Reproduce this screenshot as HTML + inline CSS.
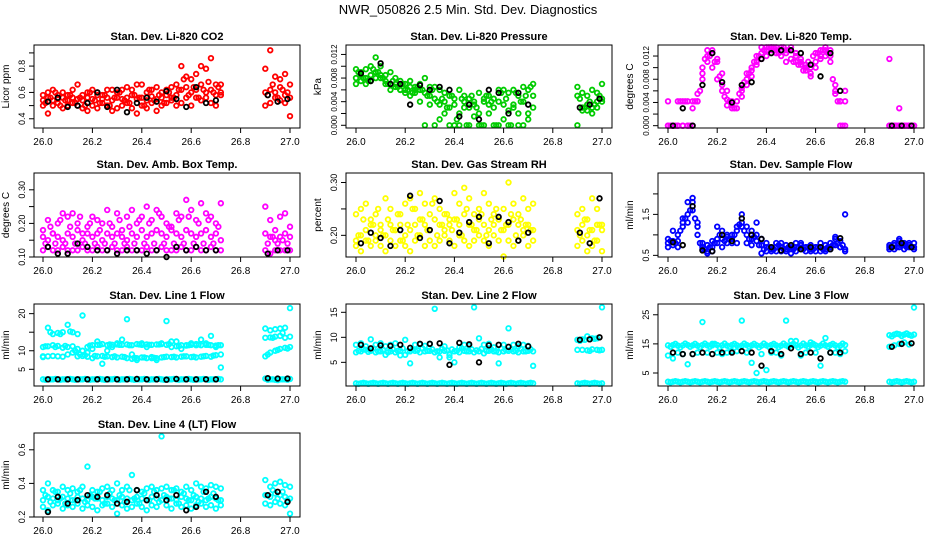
<!DOCTYPE html>
<html><head><meta charset="utf-8"><style>
html,body{margin:0;padding:0;background:#fff;}
svg{display:block;font-family:"Liberation Sans",sans-serif;}
</style></head><body>
<svg id="chart" width="936" height="540" viewBox="0 0 936 540">
<text x="468" y="14" text-anchor="middle" font-size="13">NWR_050826  2.5 Min. Std. Dev. Diagnostics</text>
</svg>
<script>
const t = [26.00,26.02,26.04,26.06,26.08,26.10,26.12,26.14,26.16,26.18,26.20,26.22,26.24,26.26,26.28,26.30,26.32,26.34,26.36,26.38,26.40,26.42,26.44,26.46,26.48,26.50,26.52,26.54,26.56,26.58,26.60,26.62,26.64,26.66,26.68,26.70,26.72,26.90,26.92,26.94,26.96,26.98,27.00];
const t2 = [26.01,26.03,26.05,26.07,26.09,26.11,26.13,26.15,26.17,26.19,26.21,26.23,26.25,26.27,26.29,26.31,26.33,26.35,26.37,26.39,26.41,26.43,26.45,26.47,26.49,26.51,26.53,26.55,26.57,26.59,26.61,26.63,26.65,26.67,26.69,26.71,26.91,26.93,26.95,26.97,26.99];
const tb = [26.02,26.06,26.10,26.14,26.18,26.22,26.26,26.30,26.34,26.38,26.42,26.46,26.50,26.54,26.58,26.62,26.66,26.70,26.91,26.95,26.99];
const xTicks = [26.0,26.2,26.4,26.6,26.8,27.0];
const xTickLabels = ["26.0","26.2","26.4","26.6","26.8","27.0"];

const co2A = [0.58,0.60,0.62,0.58,0.60,0.58,0.62,0.66,0.58,0.60,0.62,0.60,0.58,0.62,0.62,0.60,0.62,0.64,0.62,0.66,0.66,0.60,0.62,0.64,0.60,0.62,0.64,0.66,0.80,0.72,0.70,0.74,0.80,0.78,0.86,0.66,0.66,0.78,0.92,0.72,0.70,0.74,0.66];
const co2B = [0.50,0.44,0.50,0.52,0.48,0.50,0.52,0.50,0.48,0.46,0.50,0.48,0.52,0.50,0.46,0.48,0.50,0.52,0.48,0.44,0.50,0.48,0.52,0.46,0.50,0.52,0.54,0.50,0.52,0.56,0.50,0.56,0.54,0.56,0.52,0.50,0.58,0.50,0.52,0.56,0.54,0.52,0.42];
const co2C = [0.54,0.56,0.54,0.55,0.56,0.54,0.56,0.55,0.54,0.56,0.55,0.58,0.55,0.56,0.54,0.56,0.55,0.56,0.58,0.55,0.56,0.54,0.57,0.55,0.56,0.58,0.56,0.58,0.62,0.64,0.60,0.62,0.66,0.60,0.62,0.58,0.60,0.60,0.62,0.60,0.64,0.58,0.56];
const co2D = [0.52,0.56,0.60,0.50,0.54,0.58,0.52,0.56,0.50,0.60,0.54,0.52,0.58,0.50,0.56,0.60,0.54,0.52,0.58,0.56,0.50,0.62,0.54,0.58,0.52,0.60,0.56,0.62,0.70,0.58,0.64,0.56,0.62,0.68,0.60,0.64,0.58,0.66,0.56,0.62,0.60];
const co2K = [0.53,0.56,0.49,0.50,0.52,0.60,0.49,0.62,0.45,0.52,0.56,0.53,0.61,0.55,0.49,0.64,0.52,0.54,0.58,0.53,0.55];

const prA = [0.0095,0.0085,0.0080,0.0100,0.0115,0.0100,0.0085,0.0090,0.0080,0.0075,0.0070,0.0075,0.0065,0.0070,0.0080,0.0065,0.0065,0.0060,0.0055,0.0050,0.0045,0.0060,0.0050,0.0045,0.0040,0.0055,0.0045,0.0050,0.0045,0.0060,0.0060,0.0055,0.0060,0.0050,0.0065,0.0060,0.0070,0.0065,0.0055,0.0050,0.0060,0.0055,0.0070];
const prB = [0.0080,0.0075,0.0070,0.0085,0.0090,0.0080,0.0075,0.0070,0.0065,0.0060,0.0060,0.0065,0.0055,0.0060,0.0055,0.0050,0.0045,0.0035,0.0020,0.0,0.0,0.0,0.0030,0.0,0.0015,0.0,0.0,0.0020,0.0,0.0,0.0010,0.0,0.0030,0.0,0.0,0.0020,0.0030,0.0,0.0030,0.0025,0.0020,0.0030,0.0040];
const prC = [0.0070,0.0090,0.0095,0.0075,0.0080,0.0085,0.0070,0.0060,0.0070,0.0060,0.0055,0.0050,0.0060,0.0040,0.0,0.0035,0.0,0.0010,0.0040,0.0030,0.0035,0.0020,0.0040,0.0030,0.0035,0.0020,0.0040,0.0035,0.0030,0.0040,0.0035,0.0025,0.0035,0.0020,0.0040,0.0010,0.0050,0.0050,0.0025,0.0035,0.0030,0.0040,0.0045];
const prD = [0.0090,0.0080,0.0075,0.0095,0.0090,0.0080,0.0070,0.0075,0.0065,0.0070,0.0060,0.0055,0.0065,0.0060,0.0050,0.0060,0.0040,0.0045,0.0030,0.0050,0.0010,0.0045,0.0,0.0050,0.0030,0.0,0.0050,0.0040,0.0,0.0055,0.0045,0.0,0.0055,0.0040,0.0050,0.0065,0.0045,0.0030,0.0040,0.0035,0.0050];
const prK = [0.0088,0.0075,0.0105,0.0070,0.0070,0.0035,0.0068,0.0060,0.0065,0.0060,0.0015,0.0035,0.0010,0.0060,0.0055,0.0020,0.0055,0.0035,0.0030,0.0035,0.0045];

const tmA = [0.0042,0.0,0.0042,0.0042,0.0042,0.0042,0.0042,0.0080,0.0110,0.0125,0.0115,0.0090,0.0060,0.0042,0.0042,0.0050,0.0080,0.0095,0.0110,0.0125,0.0130,0.0135,0.0135,0.0130,0.0125,0.0135,0.0120,0.0110,0.0100,0.0090,0.0110,0.0120,0.0130,0.0130,0.0070,0.0042,0.0042,0.0,0.0,0.0,0.0,0.0,0.0];
const tmB = [0.0,0.0,0.0,0.0,0.0,0.0030,0.0055,0.0100,0.0120,0.0100,0.0080,0.0060,0.0045,0.0035,0.0030,0.0060,0.0070,0.0085,0.0105,0.0115,0.0120,0.0130,0.0125,0.0120,0.0110,0.0130,0.0125,0.0105,0.0095,0.0085,0.0100,0.0115,0.0120,0.0110,0.0055,0.0,0.0,0.0,0.0,0.0,0.0,0.0,0.0];
const tmC = [0.0,0.0,0.0,0.0,0.0,0.0,0.0042,0.0090,0.0130,0.0130,0.0110,0.0070,0.0035,0.0030,0.0042,0.0065,0.0090,0.0100,0.0120,0.0135,0.0135,0.0135,0.0130,0.0135,0.0130,0.0115,0.0110,0.0115,0.0105,0.0100,0.0125,0.0130,0.0135,0.0120,0.0060,0.0042,0.0060,0.0115,0.0,0.0030,0.0,0.0,0.0];
const tmD = [0.0,0.0,0.0042,0.0042,0.0,0.0042,0.0060,0.0115,0.0120,0.0110,0.0085,0.0050,0.0042,0.0030,0.0055,0.0075,0.0090,0.0110,0.0120,0.0130,0.0135,0.0135,0.0125,0.0135,0.0130,0.0110,0.0105,0.0095,0.0110,0.0120,0.0125,0.0130,0.0125,0.0080,0.0042,0.0,0.0,0.0,0.0,0.0,0.0];
const tmK = [0.0,0.0030,0.0,0.0070,0.0125,0.0075,0.0040,0.0070,0.0075,0.0115,0.0125,0.0130,0.0130,0.0125,0.0105,0.0085,0.0125,0.0060,0.0,0.0,0.0];

const abA = [0.18,0.21,0.17,0.20,0.23,0.22,0.23,0.20,0.17,0.19,0.22,0.21,0.20,0.24,0.19,0.23,0.18,0.22,0.24,0.20,0.22,0.25,0.21,0.24,0.22,0.20,0.19,0.23,0.22,0.27,0.24,0.21,0.26,0.23,0.22,0.20,0.26,0.25,0.21,0.18,0.22,0.23,0.19];
const abB = [0.16,0.15,0.17,0.16,0.15,0.17,0.16,0.18,0.15,0.17,0.16,0.17,0.15,0.17,0.16,0.17,0.16,0.15,0.17,0.16,0.18,0.16,0.17,0.18,0.17,0.16,0.18,0.17,0.16,0.18,0.17,0.16,0.17,0.18,0.16,0.17,0.15,0.17,0.16,0.15,0.16,0.17,0.16];
const abC = [0.12,0.13,0.12,0.12,0.13,0.12,0.12,0.12,0.13,0.12,0.12,0.13,0.12,0.12,0.13,0.12,0.12,0.13,0.12,0.12,0.12,0.13,0.12,0.12,0.13,0.12,0.12,0.12,0.13,0.12,0.12,0.13,0.12,0.12,0.13,0.12,0.12,0.12,0.11,0.12,0.12,0.12,0.12];
const abD = [0.14,0.19,0.14,0.21,0.14,0.19,0.14,0.22,0.14,0.20,0.14,0.18,0.14,0.20,0.14,0.21,0.14,0.19,0.14,0.21,0.14,0.20,0.14,0.23,0.14,0.19,0.14,0.21,0.14,0.22,0.14,0.20,0.14,0.21,0.14,0.19,0.14,0.16,0.14,0.15,0.14];
const abK = [0.13,0.11,0.11,0.14,0.13,0.12,0.12,0.11,0.12,0.12,0.11,0.12,0.10,0.13,0.12,0.13,0.12,0.12,0.11,0.12,0.12];

const rhA = [0.24,0.25,0.26,0.23,0.24,0.22,0.27,0.25,0.21,0.24,0.26,0.27,0.25,0.28,0.26,0.24,0.27,0.25,0.24,0.23,0.28,0.26,0.29,0.27,0.24,0.25,0.28,0.26,0.24,0.23,0.25,0.30,0.26,0.24,0.27,0.25,0.26,0.24,0.25,0.23,0.27,0.25,0.22];
const rhB = [0.19,0.20,0.21,0.22,0.20,0.21,0.20,0.22,0.21,0.22,0.20,0.21,0.22,0.23,0.22,0.21,0.23,0.22,0.21,0.22,0.23,0.22,0.24,0.22,0.21,0.23,0.22,0.21,0.22,0.23,0.21,0.22,0.23,0.22,0.21,0.22,0.21,0.21,0.22,0.20,0.21,0.22,0.21];
const rhC = [0.18,0.17,0.19,0.18,0.19,0.18,0.17,0.19,0.18,0.19,0.18,0.17,0.19,0.20,0.18,0.19,0.18,0.19,0.20,0.19,0.18,0.20,0.19,0.18,0.19,0.20,0.19,0.18,0.20,0.19,0.16,0.19,0.18,0.19,0.20,0.18,0.19,0.18,0.19,0.17,0.18,0.19,0.17];
const rhD = [0.20,0.23,0.19,0.22,0.25,0.20,0.23,0.21,0.24,0.19,0.22,0.25,0.20,0.23,0.21,0.26,0.20,0.22,0.24,0.21,0.23,0.20,0.25,0.22,0.21,0.24,0.20,0.23,0.25,0.21,0.22,0.24,0.20,0.23,0.22,0.21,0.20,0.23,0.21,0.19,0.22];
const rhK = [0.185,0.205,0.195,0.18,0.21,0.275,0.195,0.21,0.265,0.185,0.205,0.225,0.235,0.185,0.235,0.225,0.19,0.205,0.205,0.185,0.27];

const sfA = [0.90,0.85,1.00,1.40,1.80,1.90,1.20,0.70,0.60,0.60,0.90,1.10,1.00,0.90,1.20,1.50,1.20,0.90,1.30,0.90,0.70,0.70,0.80,0.70,0.65,0.70,0.80,0.75,0.70,0.75,0.70,0.70,0.75,0.80,0.90,0.85,1.50,0.75,0.80,0.85,0.80,0.75,0.80];
const sfB = [0.80,0.75,0.85,1.20,1.50,1.60,1.00,0.65,0.55,0.70,1.20,0.90,0.80,1.00,0.80,1.30,1.00,0.75,1.00,0.75,0.60,0.65,0.70,0.60,0.60,0.65,0.60,0.65,0.60,0.65,0.60,0.60,0.65,0.70,0.75,0.70,0.65,0.70,0.65,0.70,0.75,0.70,0.70];
const sfC = [0.70,1.10,0.70,1.30,1.30,1.80,1.30,0.80,0.75,0.85,0.80,0.70,0.95,0.80,1.10,1.20,0.80,1.10,0.85,0.55,0.80,0.60,0.60,0.80,0.75,0.55,0.70,0.80,0.70,0.60,0.70,0.80,0.60,0.65,0.95,0.70,0.60,0.65,0.75,0.90,0.65,0.80,0.65];
const sfD = [0.85,0.80,1.10,1.40,1.60,1.40,0.80,0.65,0.70,0.80,1.00,0.85,0.90,1.00,1.25,1.10,0.90,0.95,0.75,0.65,0.70,0.65,0.75,0.65,0.70,0.65,0.70,0.65,0.70,0.65,0.70,0.65,0.70,0.75,0.80,0.75,0.70,0.70,0.75,0.70,0.70];
const sfK = [0.82,0.75,1.70,0.62,0.60,1.00,0.85,1.40,1.00,0.90,0.70,0.62,0.75,0.65,0.70,0.70,0.65,0.92,0.70,0.80,0.70];

const l1A = [2.3,2.3,2.3,2.3,2.3,2.3,2.3,2.3,2.3,2.3,2.3,2.3,2.3,2.3,2.3,2.3,2.3,2.3,2.3,2.3,2.3,2.3,2.3,2.3,2.3,2.3,2.3,2.3,2.3,2.3,2.3,2.3,2.3,2.3,2.3,2.3,2.3,2.5,2.3,2.2,2.3,2.3,2.4];
const l1B = [8.3,8.5,8.6,8.5,8.4,9.0,9.5,8.5,8.6,8.4,8.0,8.5,8.6,8.5,8.3,8.2,8.4,8.0,7.8,8.0,8.2,8.0,8.3,8.0,8.2,8.4,8.3,8.2,8.4,8.5,8.3,8.2,8.4,8.6,8.4,8.8,9.0,8.5,9.5,10.0,10.5,10.8,11.0];
const l1C = [11.0,11.2,11.5,11.3,10.8,11.0,11.2,10.5,10.0,11.0,11.5,11.6,11.8,11.5,11.6,11.7,11.6,11.7,11.5,11.8,11.6,11.7,11.6,11.7,11.8,11.6,11.0,11.2,11.5,11.4,11.6,11.8,11.5,11.6,11.5,11.4,11.5,13.5,13.6,13.8,14.0,13.5,13.8];
const l1D = [8.5,16.2,14.5,14.8,15.0,17.0,15.0,14.5,19.5,9.5,10.5,12.5,6.5,10.0,11.0,12.0,13.0,18.5,9.0,7.5,12.0,11.0,8.0,7.5,12.0,18.0,12.5,12.5,10.5,11.5,12.0,11.5,13.0,12.0,14.0,11.0,5.5,16.0,15.5,15.8,16.0,16.2,21.5];
const l1E = [2.2,2.3,2.4,2.2,2.3,2.4,2.2,2.3,2.4,2.2,2.3,2.4,2.2,2.3,2.4,2.2,2.3,2.4,2.2,2.3,2.4,2.2,2.3,2.4,2.2,2.3,2.4,2.2,2.3,2.4,2.2,2.3,2.4,2.2,2.3,2.4,2.2,2.3,2.1,2.3,2.2];
const l1F = [11.2,15.0,11.0,14.5,11.3,15.2,10.0,9.0,8.8,11.4,8.6,11.6,8.4,11.7,8.5,11.6,8.3,11.5,8.1,11.7,8.2,11.6,8.1,11.7,8.3,11.8,8.4,11.3,8.5,11.5,8.4,11.7,8.5,11.6,8.7,11.5,9.0,13.5,10.2,14.8,10.6];
const l1K = [2.3,2.3,2.3,2.3,2.3,2.3,2.3,2.3,2.3,2.4,2.3,2.3,2.2,2.4,2.3,2.3,2.3,2.3,2.6,2.5,2.5];

const l2A = [0.8,0.8,0.8,0.8,0.8,0.8,0.8,0.8,0.8,0.8,0.8,0.8,0.8,0.8,0.8,0.8,0.8,0.8,0.8,0.8,0.8,0.8,0.8,0.8,0.8,0.8,0.8,0.8,0.8,0.8,0.8,0.8,0.8,0.8,0.8,0.8,0.8,0.8,0.8,0.8,0.8,0.8,0.8];
const l2B = [7.0,7.2,7.5,7.3,7.0,7.2,6.5,7.2,7.0,7.3,6.5,7.2,7.3,7.0,7.2,7.3,7.0,7.2,7.3,6.0,7.2,7.0,7.3,7.2,7.0,7.2,6.8,7.3,7.2,7.0,7.2,7.3,7.2,7.0,7.2,7.3,7.2,7.5,7.5,7.4,7.6,7.5,7.5];
const l2C = [8.5,8.8,8.2,9.6,8.5,8.8,8.2,8.5,8.8,6.4,9.5,4.8,8.5,8.6,8.3,8.7,15.7,6.0,8.2,6.5,5.0,8.0,8.5,8.3,16.0,9.8,8.5,8.7,8.0,4.8,8.5,11.8,8.5,8.2,8.5,8.3,4.3,9.5,9.6,10.2,9.8,9.8,16.0];
const l2D = [0.7,0.9,0.7,0.9,0.7,0.9,0.7,0.9,0.7,0.9,0.7,0.9,0.7,0.9,0.7,0.9,0.7,0.9,0.7,0.9,0.7,0.9,0.7,0.9,0.7,0.9,0.7,0.9,0.7,0.9,0.7,0.9,0.7,0.9,0.7,0.9,0.7,0.9,0.7,0.9,0.7];
const l2E = [7.3,7.6,7.1,7.8,7.2,7.5,7.0,7.6,7.3,7.8,7.2,7.6,7.4,7.8,7.3,7.6,7.2,7.7,7.4,7.6,7.3,7.8,7.2,7.6,7.4,7.7,7.3,7.6,7.2,7.8,7.4,7.6,7.3,7.7,7.2,7.6,9.3,9.5,7.3,9.7,7.4];
const l2K = [8.5,7.8,8.4,8.3,8.5,7.9,8.7,8.7,8.8,4.5,8.9,8.6,5.0,8.4,8.5,8.1,8.7,8.2,9.5,9.6,10.0];

const l3A = [2.0,2.0,2.0,2.0,2.0,2.0,2.0,2.0,2.0,2.0,2.0,2.0,2.0,2.0,2.0,2.0,2.0,2.0,2.0,2.0,2.0,2.0,2.0,2.0,2.0,2.0,2.0,2.0,2.0,2.0,2.0,2.0,2.0,2.0,2.0,2.0,2.0,2.0,2.0,2.0,2.0,2.0,2.0];
const l3B = [14.5,14.6,14.4,14.5,14.6,14.5,14.4,14.6,14.5,14.5,14.6,14.5,14.4,14.6,14.5,14.4,14.6,14.5,14.5,14.4,14.5,14.6,14.5,14.4,14.5,14.6,14.5,14.4,14.5,14.6,14.5,14.4,14.5,14.6,14.5,14.4,14.6,18.0,18.2,18.3,18.2,18.1,18.2];
const l3C = [11.0,10.0,12.0,11.5,8.0,11.5,12.0,22.5,12.0,15.0,12.0,11.5,12.0,12.5,12.5,23.0,12.0,8.5,5.0,11.5,6.0,12.0,12.0,11.0,23.0,16.0,16.0,11.0,12.0,15.5,12.0,7.5,17.0,12.0,12.0,11.5,12.5,14.0,14.5,15.0,15.5,14.8,27.5];
const l3D = [1.8,2.2,1.8,2.2,1.8,2.2,1.8,2.2,1.8,2.2,1.8,2.2,1.8,2.2,1.8,2.2,1.8,2.2,1.8,2.2,1.8,2.2,1.8,2.2,1.8,2.2,1.8,2.2,1.8,2.2,1.8,2.2,1.8,2.2,1.8,2.2,1.8,2.2,1.8,2.2,1.8];
const l3E = [14.0,15.0,13.8,15.1,14.0,15.0,13.9,15.1,14.0,15.0,13.8,15.1,14.0,15.0,13.9,15.1,14.0,15.0,13.8,15.1,14.0,15.0,13.9,15.1,14.0,15.0,13.8,15.1,14.0,15.0,13.9,15.1,14.0,15.0,13.8,15.1,17.6,18.5,17.7,18.6,17.8];
const l3K = [12.0,11.5,11.5,12.0,11.5,12.0,12.0,12.5,12.0,7.5,12.5,11.5,13.5,11.5,12.0,10.0,12.0,12.0,14.0,15.0,15.2];

const l4A = [0.36,0.40,0.36,0.35,0.38,0.36,0.37,0.35,0.38,0.50,0.36,0.35,0.37,0.38,0.36,0.40,0.36,0.38,0.45,0.36,0.35,0.37,0.38,0.36,0.37,0.38,0.36,0.37,0.35,0.38,0.36,0.40,0.38,0.37,0.39,0.38,0.37,0.42,0.38,0.40,0.41,0.39,0.38];
const l4B = [0.30,0.32,0.31,0.30,0.32,0.31,0.30,0.32,0.31,0.30,0.32,0.31,0.30,0.32,0.31,0.30,0.32,0.31,0.30,0.32,0.31,0.30,0.32,0.31,0.30,0.32,0.31,0.30,0.32,0.31,0.30,0.32,0.31,0.30,0.32,0.31,0.30,0.33,0.32,0.34,0.33,0.32,0.31];
const l4C = [0.26,0.24,0.27,0.28,0.25,0.27,0.26,0.28,0.25,0.27,0.26,0.24,0.27,0.28,0.26,0.22,0.27,0.25,0.26,0.28,0.26,0.24,0.27,0.26,0.68,0.27,0.25,0.28,0.26,0.27,0.25,0.27,0.28,0.26,0.27,0.25,0.27,0.28,0.27,0.29,0.28,0.27,0.22];
const l4D = [0.33,0.29,0.35,0.31,0.28,0.34,0.30,0.36,0.29,0.33,0.31,0.35,0.28,0.34,0.30,0.33,0.29,0.36,0.31,0.28,0.34,0.30,0.35,0.29,0.33,0.31,0.36,0.28,0.34,0.30,0.33,0.29,0.35,0.31,0.34,0.30,0.33,0.36,0.31,0.35,0.30];
const l4K = [0.23,0.32,0.28,0.30,0.33,0.32,0.33,0.28,0.29,0.36,0.30,0.33,0.30,0.33,0.24,0.26,0.35,0.32,0.33,0.35,0.29];

const NS = "http://www.w3.org/2000/svg";
const svg = document.getElementById('chart');
const colBox = [[34,300],[346,612],[658,924]];
const colX = [[43,290],[356,602],[668,914]];
const rowBox = [[45,128],[173,257],[304,386],[433,517]];

const panels = [
 {name:'co2',title:'Stan. Dev. Li-820 CO2',ylab:'Licor ppm',c:0,r:0,ymin:0.33,ymax:0.96,fs:9,ticks:[0.4,0.5,0.6,0.7,0.8,0.9],labels:['0.4','','0.6','','0.8',''],color:'#ff0000',series:[[t,co2A],[t,co2B],[t,co2C],[t2,co2D]],black:co2K},
 {name:'pressure',title:'Stan. Dev. Li-820 Pressure',ylab:'kPa',c:1,r:0,ymin:-0.00046,ymax:0.0136,fs:8,ticks:[0,0.002,0.004,0.006,0.008,0.010,0.012],labels:['0.000','','0.004','','0.008','','0.012'],color:'#00cc00',series:[[t,prA],[t,prB],[t,prC],[t2,prD]],black:prK},
 {name:'temp',title:'Stan. Dev. Li-820 Temp.',ylab:'degrees C',c:2,r:0,ymin:-0.0004,ymax:0.0139,fs:8,ticks:[0,0.002,0.004,0.006,0.008,0.010,0.012],labels:['0.000','','0.004','','0.008','','0.012'],color:'#ff00ff',series:[[t,tmA],[t,tmB],[t,tmC],[t2,tmD]],black:tmK},
 {name:'amb-box-temp',title:'Stan. Dev. Amb. Box Temp.',ylab:'degrees C',c:0,r:1,ymin:0.10,ymax:0.35,fs:9,ticks:[0.10,0.15,0.20,0.25,0.30],labels:['0.10','','0.20','','0.30'],color:'#ff00ff',series:[[t,abA],[t,abB],[t,abC],[t2,abD]],black:abK},
 {name:'gas-rh',title:'Stan. Dev. Gas Stream RH',ylab:'percent',c:1,r:1,ymin:0.159,ymax:0.318,fs:9,ticks:[0.20,0.25,0.30],labels:['0.20','','0.30'],color:'#ffff00',series:[[t,rhA],[t,rhB],[t,rhC],[t2,rhD]],black:rhK},
 {name:'sample-flow',title:'Stan. Dev. Sample Flow',ylab:'ml/min',c:2,r:1,ymin:0.46,ymax:2.51,fs:9,ticks:[0.5,1.0,1.5,2.0],labels:['0.5','','1.5',''],color:'#0000ff',series:[[t,sfA],[t,sfB],[t,sfC],[t2,sfD]],black:sfK},
 {name:'line1-flow',title:'Stan. Dev. Line 1 Flow',ylab:'ml/min',c:0,r:2,ymin:0.5,ymax:22.6,fs:9,ticks:[5,10,15,20],labels:['5','10','','20'],color:'#00ffff',series:[[t,l1A],[t,l1B],[t,l1C],[t,l1D],[t2,l1E],[t2,l1F]],black:l1K},
 {name:'line2-flow',title:'Stan. Dev. Line 2 Flow',ylab:'ml/min',c:1,r:2,ymin:0.27,ymax:16.66,fs:9,ticks:[5,10,15],labels:['5','10','15'],color:'#00ffff',series:[[t,l2A],[t,l2B],[t,l2C],[t2,l2D],[t2,l2E]],black:l2K},
 {name:'line3-flow',title:'Stan. Dev. Line 3 Flow',ylab:'ml/min',c:2,r:2,ymin:0.53,ymax:28.7,fs:9,ticks:[5,15,25],labels:['5','15','25'],color:'#00ffff',series:[[t,l3A],[t,l3B],[t,l3C],[t2,l3D],[t2,l3E]],black:l3K},
 {name:'line4-flow',title:'Stan. Dev. Line 4 (LT) Flow',ylab:'ml/min',c:0,r:3,ymin:0.2,ymax:0.70,fs:9,ticks:[0.2,0.4,0.6],labels:['0.2','0.4','0.6'],color:'#00ffff',series:[[t,l4A],[t,l4B],[t,l4C],[t2,l4D]],black:l4K}
];

function mk(tag, attrs, parent){const e=document.createElementNS(NS,tag);for(const k in attrs)e.setAttribute(k,attrs[k]);(parent||svg).appendChild(e);return e;}

panels.forEach(p=>{
  const [bx0,bx1]=colBox[p.c], [by0,by1]=rowBox[p.r], [xa,xb]=colX[p.c];
  const xs=v=>xa+(v-26)*(xb-xa);
  const ys=v=>by1-(v-p.ymin)/(p.ymax-p.ymin)*(by1-by0);
  const g=mk('g',{});
  
  
  const ti=mk('text',{x:(bx0+bx1)/2,y:by0-5,'text-anchor':'middle','font-size':'11','font-weight':'bold'},g);
  ti.textContent=p.title;
  
  
  const cx=bx0-25, cy=(by0+by1)/2;
  const yl=mk('text',{x:cx,y:cy,'text-anchor':'middle','font-size':'10',transform:`rotate(-90 ${cx} ${cy})`},g);
  yl.textContent=p.ylab;
  
  
  const pts=mk('g',{fill:'none','stroke-width':'1.8'},g);
  
  
  p.series.forEach(([tx,s])=>{
    s.forEach((v,i)=>{ if(v===null) return;
      const c=mk('circle',{cx:xs(tx[i]),cy:ys(v),r:2.3,stroke:p.color},pts);
      
      
    });
  });
  p.black.forEach((v,i)=>{
    const c=mk('circle',{cx:xs(tb[i]),cy:ys(v),r:2.3,stroke:'#000'},pts);
    
    
  });
  const b=mk('rect',{x:bx0,y:by0,width:bx1-bx0,height:by1-by0,fill:'none',stroke:'#000','stroke-width':'1'},g);
  
  
  const xg=mk('g',{stroke:'#000','stroke-width':'1'},g);
  
  
  mk('line',{x1:xs(xTicks[0]),x2:xs(xTicks[xTicks.length-1]),y1:by1,y2:by1},xg);
  xTicks.forEach((v,i)=>{
    mk('line',{x1:xs(v),x2:xs(v),y1:by1,y2:by1+5},xg);
    const tx=mk('text',{x:xs(v),y:by1+17,'text-anchor':'middle','font-size':'10',fill:'#000'},g);
    tx.textContent=xTickLabels[i];
    
    
  });
  const yg=mk('g',{stroke:'#000','stroke-width':'1'},g);
  
  
  mk('line',{x1:bx0,x2:bx0,y1:ys(p.ticks[0]),y2:ys(p.ticks[p.ticks.length-1])},yg);
  p.ticks.forEach((v,i)=>{
    mk('line',{x1:bx0-5,x2:bx0,y1:ys(v),y2:ys(v)},yg);
    if(p.labels[i]){
      const lx=bx0-9, ly=ys(v);
      const tx=mk('text',{x:lx,y:ly,'text-anchor':'middle','font-size':p.fs,transform:`rotate(-90 ${lx} ${ly})`},g);
      tx.textContent=p.labels[i];
      
      
    }
  });
});
</script>
</body></html>
